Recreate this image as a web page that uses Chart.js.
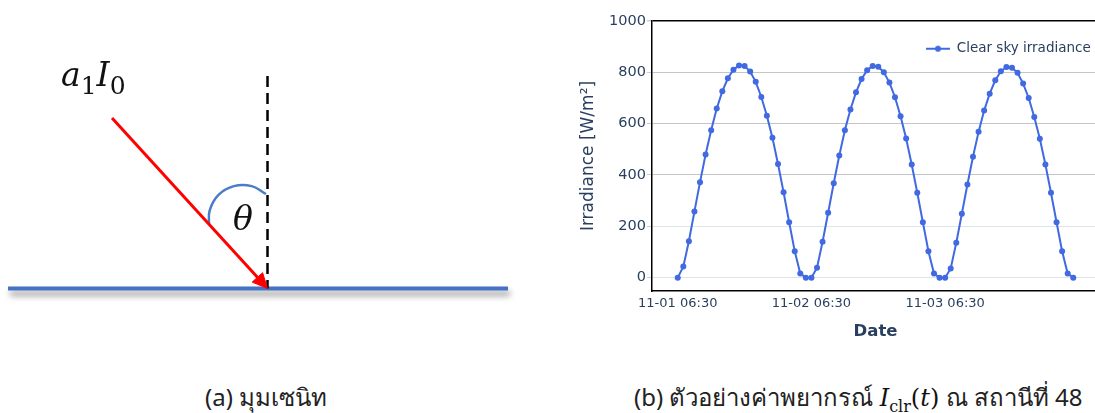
<!DOCTYPE html>
<html>
<head>
<meta charset="utf-8">
<title>Zenith angle / clear sky irradiance</title>
<script src="https://cdn.jsdelivr.net/npm/chart.js@4.4.1/dist/chart.umd.min.js"></script>
<style>
  html, body { margin: 0; padding: 0; background: #fff; }
  body { width: 1095px; height: 413px; overflow: hidden; position: relative; }
  .panel { position: absolute; top: 0; height: 370px; }
  #diagram-wrap { left: 0; width: 560px; }
  #irr-wrap { left: 570px; width: 540px; }
  .caption {
    position: absolute; top: 381px; line-height: 32px; white-space: nowrap;
    font-family: "Noto Sans", "DejaVu Sans", sans-serif; font-size: 24px; color: #222;
  }
  .math { font-family: "DejaVu Serif", "Liberation Serif", serif; font-style: italic; color: #111; }
  .math .up { font-style: normal; }
  .label { position: absolute; line-height: 40px; white-space: nowrap; }
</style>
</head>
<body>
<div class="panel" id="diagram-wrap"><canvas id="diagram" width="560" height="370"></canvas></div>
<div class="panel" id="irr-wrap"><canvas id="irr" width="540" height="370"></canvas></div>

<div class="label math" style="left:61px; top:55px; font-size:33px;">a<sub class="up" style="font-size:25px; vertical-align:-8px;">1</sub>I<sub class="up" style="font-size:25px; vertical-align:-8px;">0</sub></div>
<div class="label math" style="left:233px; top:199px; font-size:33px;">θ</div>

<div class="caption" style="left:205px;">(a) มุมเซนิท</div>
<div class="caption" style="left:634px;">(b) ตัวอย่างค่าพยากรณ์ <span class="math" style="font-size:24px;">I<sub class="up" style="font-size:16px;">clr</sub><span class="up">(</span>t<span class="up">)</span></span> ณ สถานีที่ 48</div>

<script>
// ---- left panel: incidence geometry, in canvas pixel units (y grows downward)
const surfaceLine = [{x: 8, y: 288.5}, {x: 508, y: 288.5}];
const normalLine = [{x: 267.5, y: 76}, {x: 267.5, y: 288.5}];
const rayLine = [{x: 112, y: 118}, {x: 259, y: 279}];
const arrowHead = [{x: 267.5, y: 288.5}, {x: 252.2, y: 282.1}, {x: 262.6, y: 272.7}, {x: 267.5, y: 288.5}];
const angleArc = [{x: 209, y: 225}, {x: 209.7, y: 210.3}, {x: 218.5, y: 194.9}, {x: 233.9, y: 186.1}, {x: 251.7, y: 186.1}, {x: 266, y: 194}];

// ---- right panel: clear sky irradiance [W/m2], hourly from 11-01 06:30
const irradiance = [
  0, 43, 142, 258, 372, 480, 574, 659, 726, 777, 810, 827,
  825, 803, 763, 704, 631, 545, 443, 333, 216, 103, 16, 0,
  0, 39, 140, 253, 368, 476, 574, 655, 722, 774, 808, 825,
  822, 800, 760, 703, 629, 542, 441, 331, 216, 103, 16, 0,
  0, 36, 136, 249, 363, 471, 568, 651, 717, 769, 804, 821,
  818, 798, 756, 700, 626, 541, 441, 331, 216, 103, 16, 0
];
const tickHours = [0, 24, 48];
const tickLabels = ['11-01 06:30', '11-02 06:30', '11-03 06:30'];
const yTicks = [0, 200, 400, 600, 800, 1000];

const lineBlue = '#4169e1';
const inkColor = '#2a3f5f';

// soft drop shadow under the surface line
const shadowPlugin = {
  id: 'surfaceShadow',
  beforeDatasetDraw(chart, args) {
    if (chart.data.datasets[args.index].label !== 'surface') return;
    const ctx = chart.ctx;
    ctx.save();
    ctx.shadowColor = 'rgba(0, 0, 0, 0.45)';
    ctx.shadowBlur = 6;
    ctx.shadowOffsetX = 2;
    ctx.shadowOffsetY = 5;
  },
  afterDatasetDraw(chart, args) {
    if (chart.data.datasets[args.index].label !== 'surface') return;
    chart.ctx.restore();
  }
};

const seg = (label, data, extra) => Object.assign({
  label, data, showLine: true, pointRadius: 0, tension: 0, fill: false
}, extra);

// first dataset is painted on top
new Chart(document.getElementById('diagram'), {
  type: 'scatter',
  data: {
    datasets: [
      seg('head', arrowHead, {borderColor: '#ff0000', backgroundColor: '#ff0000', borderWidth: 1, fill: 'shape'}),
      seg('ray', rayLine, {borderColor: '#ff0000', borderWidth: 3}),
      seg('arc', angleArc, {borderColor: '#4a7cc9', borderWidth: 2.5, tension: 0.4}),
      seg('normal', normalLine, {borderColor: '#000', borderWidth: 2.5, borderDash: [11, 6]}),
      seg('surface', surfaceLine, {borderColor: '#4472c4', borderWidth: 4})
    ]
  },
  options: {
    responsive: false,
    animation: false,
    layout: {padding: 0},
    plugins: {legend: {display: false}, tooltip: {enabled: false}},
    scales: {
      x: {type: 'linear', display: false, min: 0, max: 560},
      y: {type: 'linear', display: false, min: 0, max: 370, reverse: true}
    }
  },
  plugins: [shadowPlugin]
});

// legend symbol: short line with a marker in the middle
const legendIcon = document.createElement('canvas');
legendIcon.width = 24;
legendIcon.height = 8;
(() => {
  const c = legendIcon.getContext('2d');
  c.strokeStyle = lineBlue;
  c.lineWidth = 2;
  c.beginPath(); c.moveTo(0, 4); c.lineTo(24, 4); c.stroke();
  c.fillStyle = lineBlue;
  c.beginPath(); c.arc(12, 4, 3, 0, Math.PI * 2); c.fill();
})();

// park the legend in the upper right corner of the plot
const legendPlacer = {
  id: 'legendPlacer',
  afterLayout(chart) {
    const lg = chart.legend;
    const area = chart.chartArea;
    lg.left = area.right - 183;
    lg.right = lg.left + lg.width;
    lg.top = area.top + 11;
    lg.bottom = area.bottom;
  }
};

const gridColor = (ctx) => {
  const v = ctx.tick && ctx.tick.value;
  if (v === 1000) return '#000';
  return v >= 400 ? '#c4c5c9' : '#dfe3ea';
};

new Chart(document.getElementById('irr'), {
  type: 'line',
  data: {
    datasets: [{
      label: 'Clear sky irradiance',
      data: irradiance.map((v, i) => ({x: i, y: v})),
      borderColor: lineBlue,
      backgroundColor: lineBlue,
      borderWidth: 2,
      pointRadius: 3,
      pointBorderWidth: 0,
      pointBackgroundColor: lineBlue,
      tension: 0
    }]
  },
  options: {
    responsive: false,
    animation: false,
    layout: {padding: {top: 21, right: 11, bottom: 28, left: 0}},
    plugins: {
      tooltip: {enabled: false},
      legend: {
        position: 'chartArea',
        align: 'start',
        labels: {
          usePointStyle: true,
          pointStyleWidth: 24,
          padding: 10,
          color: inkColor,
          font: {family: 'DejaVu Sans', size: 13.5},
          generateLabels: (chart) => Chart.defaults.plugins.legend.labels.generateLabels(chart)
            .map(item => Object.assign(item, {pointStyle: legendIcon}))
        }
      }
    },
    scales: {
      x: {
        type: 'linear',
        min: -4.62,
        max: 75.62,
        grid: {display: false, drawTicks: false, tickLength: 0},
        border: {display: true, color: '#000', width: 1.5},
        afterBuildTicks: (scale) => { scale.ticks = tickHours.map(v => ({value: v})); },
        afterFit: (scale) => { scale.height = 51; },
        ticks: {
          padding: 5,
          maxRotation: 0,
          color: inkColor,
          font: {family: 'DejaVu Sans', size: 13},
          callback: (v) => tickLabels[tickHours.indexOf(v)]
        },
        title: {
          display: true,
          text: 'Date',
          color: inkColor,
          font: {family: 'DejaVu Sans', size: 16.5, weight: 'bold'},
          padding: {top: 0, bottom: 0}
        }
      },
      y: {
        min: -52,
        max: 1000,
        afterBuildTicks: (scale) => { scale.ticks = yTicks.map(v => ({value: v})); },
        afterFit: (scale) => { scale.width = 82; },
        grid: {
          color: gridColor,
          lineWidth: (ctx) => (ctx.tick && ctx.tick.value === 1000 ? 1.5 : 1),
          tickColor: '#c8ccd2',
          tickLength: 5
        },
        border: {display: true, color: '#000', width: 1.5},
        ticks: {
          padding: 1,
          color: inkColor,
          font: {family: 'DejaVu Sans', size: 14.5},
          callback: (v) => String(v)
        },
        title: {
          display: true,
          text: 'Irradiance [W/m²]',
          color: inkColor,
          font: {family: 'DejaVu Sans', size: 17},
          padding: {top: 8, bottom: 0}
        }
      }
    }
  },
  plugins: [legendPlacer]
});
</script>
</body>
</html>
